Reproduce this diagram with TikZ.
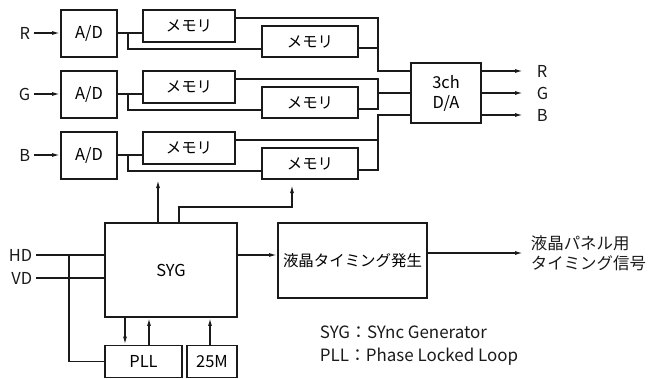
\documentclass[tikz,border=0pt]{standalone}
\usepackage{fontspec}
\setmainfont{Noto Sans CJK JP}
\usetikzlibrary{arrows.meta, positioning, calc}
\definecolor{cink}{HTML}{1A1A1A}
\tikzset{
  every picture/.style={line width=1.8pt, draw=cink},
  blk/.style={draw=cink, rectangle, inner sep=1pt, align=center},
  arrow/.style={-{Latex[length=8bp, width=4bp]}, draw=cink, line width=1.4pt},
  wire/.style={draw=cink, line width=1.4pt},
  lbl/.style={text=cink, inner sep=3bp},
  note/.style={text=cink, align=left, inner sep=0pt, font=\fontsize{17}{23}\selectfont},
  jp/.style={font=\fontsize{15.5}{20}\selectfont},
}

\begin{document}
\begin{tikzpicture}[x=1bp, y=-1bp, every node/.append style={font=\fontsize{16.5}{20}\selectfont}]
  \useasboundingbox (0,0) rectangle (648,378);
  % ---- D/A
  \node[blk, minimum width=70bp, minimum height=60bp] (da) at (446,93) {3ch\\D/A};
  % ---- three channels: A/D and two memories each
  \foreach \c/\t/\d in {R/10/71, G/71/93, B/132/115} {
    \node[lbl, anchor=east] (in\c) at (34,\t+23) {\c};
    \node[blk, minimum width=56bp, minimum height=47bp] (ad\c) at (89,\t+23.5) {A/D};
    \node[blk, jp, minimum width=92bp, minimum height=32bp] (ma\c) at (189,\t+16) {メモリ};
    \node[blk, jp, minimum width=96bp, minimum height=31bp] (mb\c) at (310,\t+31.5) {メモリ};
    \draw[arrow] (in\c.east) -- (ad\c.west |- in\c.east);
    \draw[wire] (ad\c.east |- 0,\t+23) -- (ma\c.west |- 0,\t+23);
    \draw[wire] (128,\t+23) |- (mb\c.west |- 0,\t+39);
    \draw[wire] (ma\c.east |- 0,\t+8) -| (378,\d) -- (da.west |- 0,\d);
    \draw[wire] (mb\c.east |- 0,\t+38) -| (378,\d);
    \node[lbl, anchor=west] (out\c) at (533,\d) {\c};
    \draw[arrow, shorten >=10bp] (da.east |- out\c.west) -- (out\c.west);
  }
  % ---- sync generator
  \node[blk, minimum width=132bp, minimum height=94bp] (syg) at (171,270) {SYG};
  \node[blk, minimum width=77bp, minimum height=32bp] (pll) at (143.5,361.5) {PLL};
  \node[blk, minimum width=50bp, minimum height=32bp] (osc) at (212,361.5) {25M};
  \node[lbl, anchor=east] (hd) at (36,255) {HD};
  \node[lbl, anchor=east] (vd) at (36,278) {VD};
  \draw[wire] (hd.east) -- (syg.west |- hd.east);
  \draw[wire] (vd.east) -- (syg.west |- vd.east);
  \draw[wire] (69,255) |- (pll.west);
  \draw[arrow] (syg.south -| 125,0) -- (pll.north -| 125,0);
  \draw[arrow] (pll.north -| 149,0) -- (syg.south -| 149,0);
  \draw[arrow] (osc.north -| 210,0) -- (syg.south -| 210,0);
  \coordinate (toma) at (158,180);
  \coordinate (tomb) at (292,185);
  \draw[arrow] (syg.north -| toma) -- (toma);
  \draw[arrow] (syg.north -| 179,0) |- (tomb |- 0,207) -- (tomb);
  % ---- LCD timing
  \node[blk, jp, minimum width=149bp, minimum height=75bp] (lcd) at (352.5,260.5) {液晶タイミング発生};
  \node[lbl, anchor=west, align=left, font=\fontsize{16.5}{20}\selectfont] (lcdout) at (527,253) {液晶パネル用\\タイミング信号};
  \draw[arrow] (syg.east |- 0,255) -- (lcd.west |- 0,255);
  \draw[arrow, shorten >=4bp] (lcd.east |- lcdout.west) -- (lcdout.west);
  % ---- legend
  \node[note, anchor=west] (legend) at (319,346) {SYG：SYnc Generator\\PLL：Phase Locked Loop};
\end{tikzpicture}
\end{document}
